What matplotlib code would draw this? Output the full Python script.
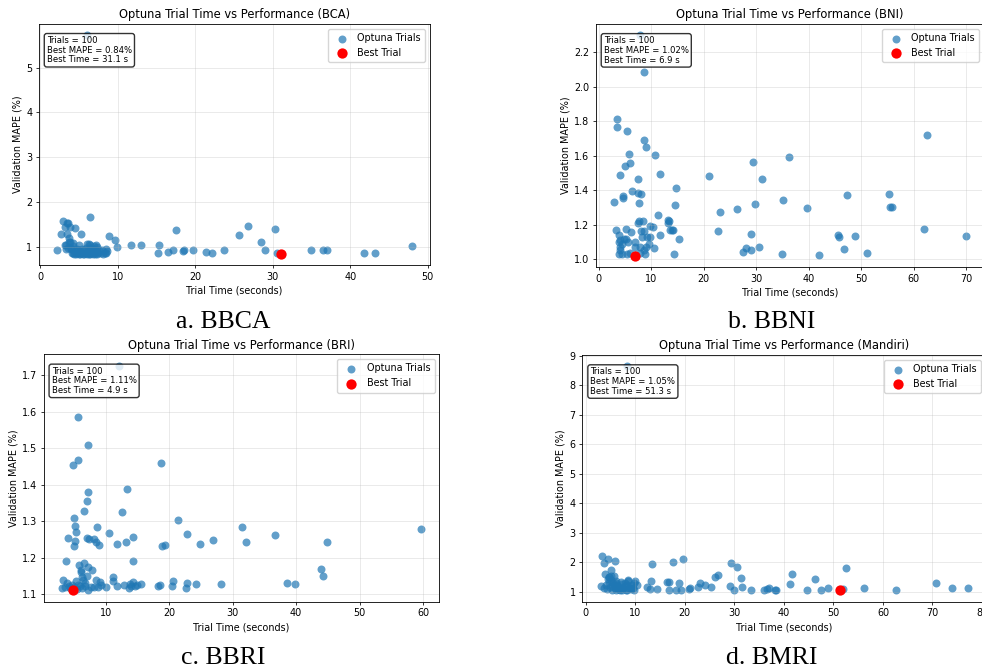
import matplotlib
matplotlib.use("Agg")
import matplotlib.pyplot as plt

# ---- data ----
bca_time = [2.15, 2.9, 2.7, 3.2, 3.5, 3.6, 3.5, 3.8, 4.5, 5.25,
            6.4, 3.75, 3.9, 3.2, 3.3, 3.95, 4.3, 6.3, 7.2, 8.5,
            8.5, 8.85, 9.7, 9.9, 11.75, 13.0, 15.15, 15.3, 16.5, 17.2,
            17.5, 18.4, 18.6, 19.75, 21.4, 22.2, 23.7, 25.7, 26.8, 28.5,
            29.0, 30.25, 30.6, 35.0, 36.45, 37.0, 41.8, 43.2, 48.0, 6.0, 31.1,
            4.1, 4.4, 4.6, 4.8, 5.0, 5.1, 5.3, 5.5, 5.6, 5.8, 6.0, 6.1,
            6.3, 6.5, 6.6, 6.8, 7.0, 7.1, 7.3, 7.5, 7.8, 8.1, 8.4,
            4.5, 4.9, 5.2, 5.7, 6.2, 6.7, 7.2, 7.6, 8.0, 8.6,
            3.6, 4.0, 4.7, 5.4, 5.9, 6.4, 6.9, 7.4,
            3.4, 4.2, 5.0, 6.5, 7.0, 3.7, 4.3, 6.0]
bca_mape = [0.94, 1.58, 1.28, 1.45, 1.53, 1.54, 1.28, 1.45, 1.43, 1.28,
            1.66, 1.19, 1.1, 1.04, 0.95, 0.95, 0.86, 1.07, 1.04, 0.86,
            0.95, 1.24, 1.16, 1.0, 1.04, 1.04, 0.86, 1.04, 0.89, 0.93,
            1.38, 0.91, 0.94, 0.93, 0.89, 0.87, 0.93, 1.27, 1.46, 1.1,
            0.93, 1.41, 0.86, 0.92, 0.94, 0.93, 0.86, 0.86, 1.02, 5.73, 0.84,
            0.86, 0.85, 0.84, 0.86, 0.85, 0.84, 0.86, 0.85, 0.84, 0.86, 0.85, 0.86,
            0.84, 0.85, 0.87, 0.85, 0.86, 0.84, 0.85, 0.87, 0.86, 0.85, 0.87,
            0.91, 0.92, 0.90, 0.93, 0.91, 0.92, 0.90, 0.93, 0.92, 0.91,
            0.98, 0.97, 0.96, 0.95, 0.97, 0.98, 0.96, 0.99,
            1.04, 1.02, 1.05, 1.04, 1.03, 1.12, 1.09, 1.06]

bni_time = [7.93, 8.63, 3.5, 3.55, 5.4, 8.63, 8.95, 5.78, 10.8, 5.97,
            5.0, 4.06, 11.6, 7.43, 20.94, 29.45, 36.24, 31.1, 62.45, 14.79,
            2.86, 4.63, 4.7, 6.28, 7.49, 8.06, 7.74, 14.53, 11.23, 23.16,
            26.34, 29.7, 35.1, 39.73, 47.34, 55.2, 55.4, 55.8, 62.0, 70.0,
            48.74, 45.57, 45.8, 46.7, 51.15, 41.9, 34.84, 30.46, 29.1, 29.1,
            28.1, 27.5, 22.66, 14.28, 15.23, 14.1, 13.6, 13.2, 13.2, 11.6,
            10.47, 10.35, 9.84, 9.77, 9.2, 8.45, 7.43, 7.6, 8.57, 8.06,
            8.25, 9.0, 8.7, 8.9, 7.8, 6.92, 7.93, 6.16, 5.14, 5.14,
            4.76, 4.13, 3.8, 3.36, 4.0, 4.13, 3.87, 5.4, 4.4, 6.92,
            4.5, 6.0, 5.6, 7.0, 9.5, 3.9, 14.0, 13.4]
bni_mape = [2.30, 2.083, 1.813, 1.765, 1.744, 1.69, 1.652, 1.613, 1.606, 1.558,
            1.544, 1.488, 1.494, 1.463, 1.481, 1.565, 1.596, 1.467, 1.721, 1.412,
            1.331, 1.367, 1.358, 1.396, 1.387, 1.377, 1.327, 1.315, 1.256, 1.273,
            1.29, 1.319, 1.344, 1.3, 1.375, 1.379, 1.306, 1.302, 1.179, 1.133,
            1.138, 1.14, 1.129, 1.058, 1.037, 1.027, 1.029, 1.071, 1.148, 1.052,
            1.067, 1.042, 1.167, 1.029, 1.119, 1.171, 1.171, 1.213, 1.229, 1.142,
            1.065, 1.188, 1.196, 1.127, 1.127, 1.223, 1.21, 1.221, 1.165, 1.162,
            1.13, 1.073, 1.052, 1.029, 1.071, 1.071, 1.037, 1.158, 1.175, 1.119,
            1.119, 1.115, 1.144, 1.173, 1.073, 1.052, 1.031, 1.031, 1.033, 1.023,
            1.09, 1.04, 1.10, 1.10, 1.09, 1.10, 1.17, 1.22]

bri_time = [12.04, 5.65, 7.28, 5.65, 4.82, 18.69, 13.3, 7.28, 7.07, 6.54,
            12.57, 4.97, 5.24, 5.34, 8.59, 21.36, 31.52, 59.7, 36.6, 22.83,
            10.52, 14.29, 4.08, 7.12, 7.33, 8.22, 8.48, 9.0, 5.13, 5.08,
            11.73, 13.25, 18.9, 19.37, 24.92, 26.96, 32.15, 44.92, 3.82, 14.29,
            43.93, 44.2, 5.86, 6.54, 7.22, 7.9, 6.07, 6.3, 7.0, 8.43,
            9.1, 3.3, 11.1, 11.2, 20.68, 22.83, 24.3, 28.2, 38.5, 39.8,
            22.7, 20.52, 18.2, 18.5, 15.65, 14.7, 14.29, 14.08, 13.66, 12.88,
            11.83, 8.22, 7.28, 6.75, 6.02, 5.29, 4.76, 3.98, 3.09, 3.66,
            4.35, 5.45, 4.82, 5.0, 5.6, 6.3, 7.7, 9.3, 4.2, 6.8,
            8.8, 10.0, 14.9, 13.9, 6.1, 6.4]
bri_mape = [1.727, 1.587, 1.508, 1.469, 1.455, 1.46, 1.387, 1.379, 1.355, 1.328,
            1.324, 1.308, 1.286, 1.271, 1.283, 1.303, 1.285, 1.278, 1.263, 1.264,
            1.267, 1.258, 1.254, 1.254, 1.252, 1.251, 1.243, 1.235, 1.245, 1.233,
            1.237, 1.243, 1.231, 1.234, 1.237, 1.249, 1.242, 1.243, 1.191, 1.19,
            1.17, 1.151, 1.18, 1.184, 1.173, 1.167, 1.167, 1.148, 1.151, 1.139,
            1.133, 1.139, 1.146, 1.136, 1.136, 1.13, 1.128, 1.128, 1.13, 1.127,
            1.116, 1.122, 1.123, 1.126, 1.127, 1.121, 1.132, 1.121, 1.118, 1.126,
            1.123, 1.119, 1.112, 1.123, 1.121, 1.135, 1.126, 1.13, 1.118, 1.119,
            1.116, 1.114, 1.11, 1.12, 1.125, 1.118, 1.12, 1.125, 1.122, 1.13,
            1.12, 1.12, 1.125, 1.128, 1.16, 1.14]

bmri_time = [8.37, 3.31, 4.52, 3.71, 5.8, 5.0, 3.9, 4.66, 5.67, 13.3,
             17.7, 19.58, 29.23, 30.51, 31.3, 26.0, 26.66, 41.65, 46.37, 52.45,
             70.68, 73.9, 77.1, 62.65, 56.2, 48.9, 52.0, 47.4, 44.7, 41.3,
             38.5, 38.2, 37.0, 36.6, 35.9, 33.35, 31.6, 30.0, 29.1, 25.3,
             24.0, 23.1, 22.75, 21.0, 20.86, 19.2, 18.9, 18.2, 16.88, 16.3,
             16.74, 14.38, 13.03, 13.16, 12.29, 51.3,
             3.0, 3.6, 4.0, 4.3, 4.6, 4.9, 5.2, 5.5, 5.8, 6.1, 6.4, 6.7,
             7.0, 7.3, 7.6, 7.9, 8.2, 8.5, 8.8, 9.1, 9.4, 9.7, 10.0, 10.3,
             4.4, 5.0, 5.6, 6.2, 6.8, 7.4, 8.0, 8.6, 9.2, 9.8,
             4.7, 5.3, 6.0, 7.1, 8.3, 9.5, 5.1, 6.5, 8.4]
bmri_mape = [8.65, 2.21, 2.12, 1.98, 2.05, 1.75, 1.6, 1.52, 1.55, 1.95,
             2.03, 2.13, 1.98, 1.85, 1.49, 1.52, 1.56, 1.61, 1.45, 1.82,
             1.29, 1.12, 1.15, 1.07, 1.15, 1.15, 1.1, 1.05, 1.05, 1.27,
             1.05, 1.05, 1.12, 1.09, 1.05, 1.08, 1.16, 1.08, 1.21, 1.18,
             1.25, 1.29, 1.18, 1.14, 1.09, 1.08, 1.32, 1.08, 1.33, 1.33,
             1.08, 1.1, 1.09, 1.36, 1.16, 1.05,
             1.2, 1.12, 1.25, 1.1, 1.35, 1.18, 1.08, 1.3, 1.15, 1.05, 1.22, 1.1,
             1.05, 1.28, 1.12, 1.2, 1.08, 1.38, 1.15, 1.1, 1.25, 1.05, 1.38, 1.22,
             1.45, 1.4, 1.25, 1.32, 1.18, 1.06, 1.3, 1.42, 1.12, 1.3,
             1.5, 1.2, 1.38, 1.35, 1.22, 1.15, 1.55, 1.1, 1.06]

n_trials = [100, 100, 100, 100]
best_time = [31.1, 6.9, 4.9, 51.3]
best_mape = [0.84, 1.02, 1.11, 1.05]
titles = ["BCA", "BNI", "BRI", "Mandiri"]
captions = ["a. BBCA", "b. BBNI", "c. BBRI", "d. BMRI"]

# ---- style (figure is a scaled-down screenshot) ----
plt.rcParams.update({
    "font.family": "DejaVu Sans",
    "font.size": 6.9,
    "axes.titlesize": 8.3,
    "axes.labelsize": 6.9,
    "xtick.labelsize": 6.9,
    "ytick.labelsize": 6.9,
    "legend.fontsize": 6.9,
    "axes.linewidth": 0.6,
    "axes.titlepad": 4.0,
    "axes.labelpad": 2.7,
    "xtick.major.size": 2.4,
    "ytick.major.size": 2.4,
    "xtick.major.width": 0.55,
    "ytick.major.width": 0.55,
    "xtick.major.pad": 2.4,
    "ytick.major.pad": 2.4,
})

W, H = 982, 670
fig = plt.figure(figsize=(W / 100, H / 100), dpi=100)

# axes boxes in pixels: left, top, right, bottom
boxes = [(39, 24, 430, 265), (596, 24, 984, 267),
         (43.7, 354.3, 439.3, 601.7), (582.3, 355, 986, 601.7)]
cap_pos = [(223.7, 328), (772, 328), (223.7, 664), (772, 664)]

series = [(bca_time, bca_mape), (bni_time, bni_mape),
          (bri_time, bri_mape), (bmri_time, bmri_mape)]

for i, (l, t, r, b) in enumerate(boxes):
    ax = fig.add_axes([l / W, 1 - b / H, (r - l) / W, (b - t) / H])
    xs, ys = series[i]
    ax.scatter(xs, ys, s=33, color="#1f77b4", alpha=0.7, linewidths=0, label="Optuna Trials")
    ax.scatter([best_time[i]], [best_mape[i]], s=55, color="red", linewidths=0,
               zorder=5, label="Best Trial")
    ax.set_title(f"Optuna Trial Time vs Performance ({titles[i]})")
    ax.set_xlabel("Trial Time (seconds)")
    ax.set_ylabel("Validation MAPE (%)")
    ax.grid(True, alpha=0.3, linewidth=0.6)
    ax.legend(loc="upper right", borderpad=0.45, handletextpad=0.6)
    info = (f"Trials = {n_trials[i]}\nBest MAPE = {best_mape[i]:.2f}%\n"
            f"Best Time = {best_time[i]:.1f} s")
    ax.text(0.02, 0.95, info, transform=ax.transAxes, va="top", ha="left",
            fontsize=6.1, linespacing=1.1,
            bbox=dict(boxstyle="round,pad=0.3", facecolor="white", alpha=0.8))

    cx, cy = cap_pos[i]
    fig.text(cx / W, 1 - cy / H, captions[i], ha="center", va="baseline",
             fontsize=18.5, family="Liberation Serif")

fig.savefig("out.png", dpi=100)
